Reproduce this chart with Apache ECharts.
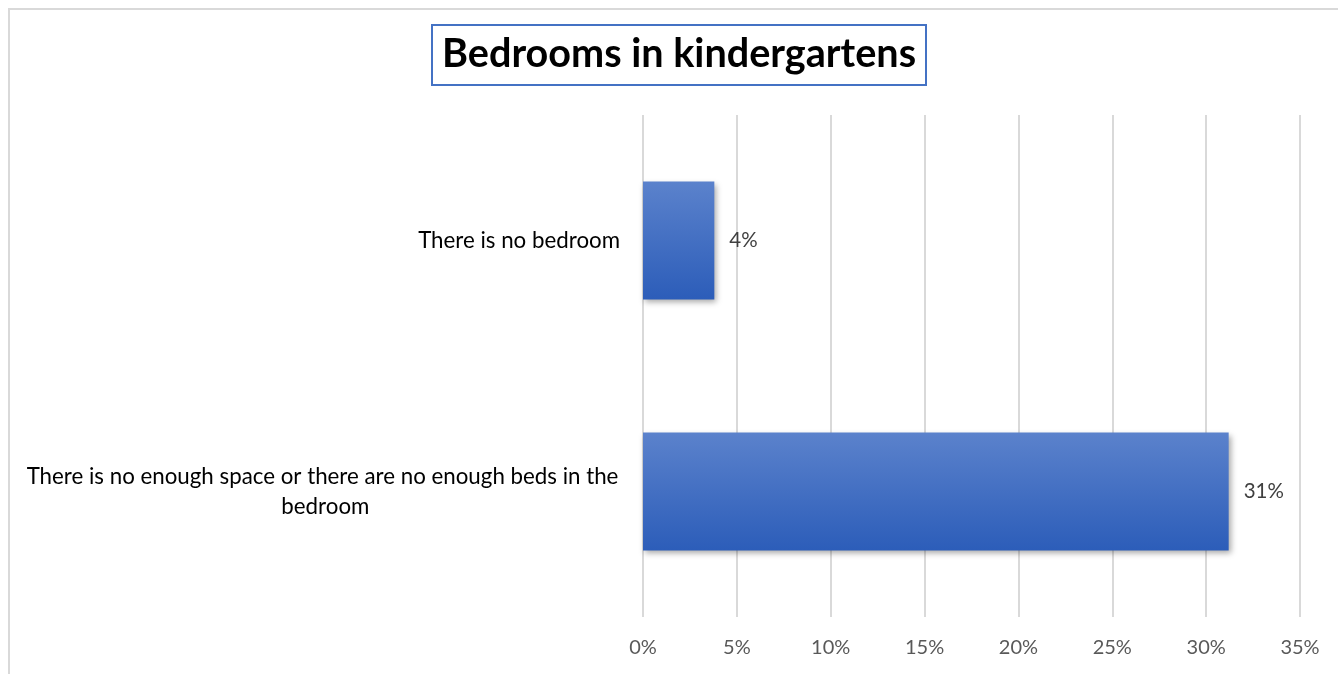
<!DOCTYPE html>
<html>
<head>
<meta charset="utf-8">
<script src="https://cdn.jsdelivr.net/npm/echarts@6/dist/echarts.min.js"></script>
<style>
  html, body { margin: 0; padding: 0; background: #fff; }
  #chart { width: 1338px; height: 674px; }
</style>
</head>
<body>
<div id="chart"></div>
<script>
// Shares of kindergartens reporting each bedroom problem (percent)
const categories = [
  'There is no bedroom',
  'There is no enough space or there are no enough beds in the bedroom'
];
const shares = [3.8, 31.2];
const tickValues = [0, 5, 10, 15, 20, 25, 30, 35];

const chart = echarts.init(document.getElementById('chart'), null, { renderer: 'canvas' });

const FONT = 'Lato, "Open Sans", sans-serif';
const LABEL_WRAP = 595;

// Category labels sit right-aligned against the plot; a label that needs to wrap
// gets a fixed block width and its lines are centred inside that block.
const categoryItems = categories.map(name => {
  const item = { value: name };
  if (name.length > 40) {
    item.textStyle = { width: LABEL_WRAP, overflow: 'break' };
  }
  return item;
});

chart.setOption({
  backgroundColor: '#ffffff',
  animation: false,
  title: {
    text: 'Bedrooms in kindergartens',
    left: 432,
    top: 25,
    padding: [9, 10, 11, 10],
    borderColor: '#4472c4',
    borderWidth: 2,
    backgroundColor: '#ffffff',
    textStyle: {
      fontFamily: FONT,
      fontWeight: 'bold',
      fontSize: 39.6,
      color: '#000000'
    }
  },
  graphic: [{
    type: 'rect',
    silent: true,
    z: -10,
    shape: { x: 9, y: 9, width: 1400, height: 700 },
    style: { fill: 'none', stroke: '#d9d9d9', lineWidth: 2 }
  }],
  grid: { left: 643, right: 38, top: 115, bottom: 57 },
  xAxis: {
    type: 'value',
    min: tickValues[0],
    max: tickValues[tickValues.length - 1],
    interval: tickValues[1] - tickValues[0],
    axisLine: { show: false },
    axisTick: { show: false },
    splitLine: { show: true, lineStyle: { color: '#d9d9d9', width: 2 } },
    axisLabel: {
      formatter: '{value}%',
      margin: 21,
      color: '#595959',
      fontFamily: FONT,
      fontSize: 20
    }
  },
  yAxis: {
    type: 'category',
    inverse: true,
    data: categoryItems,
    axisLine: { show: false },
    axisTick: { show: false },
    axisLabel: {
      margin: 23,
      align: 'right',
      lineHeight: 30,
      color: '#000000',
      fontFamily: FONT,
      fontSize: 22.3,
      formatter: '{c|{value}}',
      rich: {
        c: {
          align: 'center',
          lineHeight: 30,
          color: '#000000',
          fontFamily: FONT,
          fontSize: 22.3
        }
      }
    }
  },
  series: [{
    type: 'bar',
    data: shares,
    barCategoryGap: '53%',
    itemStyle: {
      color: new echarts.graphic.LinearGradient(0, 0, 0, 1, [
        { offset: 0, color: '#5b82cc' },
        { offset: 1, color: '#2c5db9' }
      ]),
      shadowColor: 'rgba(0,0,0,0.35)',
      shadowBlur: 6,
      shadowOffsetX: 2,
      shadowOffsetY: 3
    },
    label: {
      show: true,
      position: 'right',
      distance: 15,
      color: '#404040',
      fontFamily: FONT,
      fontSize: 20.5,
      formatter: p => Math.round(p.value) + '%'
    }
  }]
});
</script>
</body>
</html>
